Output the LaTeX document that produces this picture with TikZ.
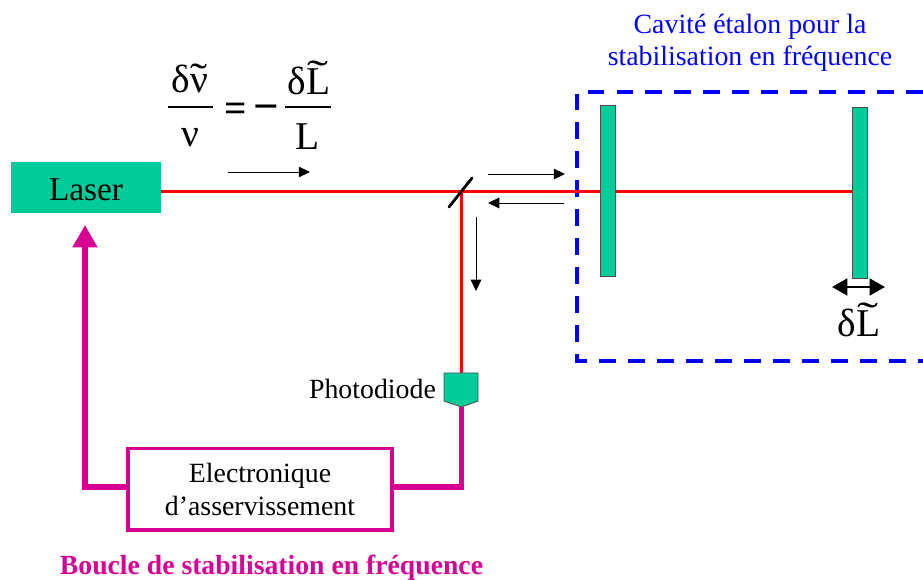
\documentclass[tikz,border=0pt]{standalone}
\usepackage{fontspec}
\setmainfont{Liberation Serif}
\usetikzlibrary{arrows.meta}
\definecolor{mirrorgreen}{HTML}{00CC99}
\definecolor{loopmagenta}{HTML}{D60093}
\newcommand{\smalltilde}[1]{\ooalign{\hfil\raisebox{0.05em}{\scalebox{1.3}[1]{\char"02DC}}\hfil\cr #1\cr}}
\newcommand{\widetildeL}{\ooalign{\hfil\raisebox{0.17em}{\scalebox{1.6}[1]{\char"02DC}}\hfil\cr L\cr}}
\tikzset{
    textnode/.style={inner sep=0pt, font=\fontsize{19.8}{24}\selectfont},
    formula/.style={inner sep=0pt, font=\fontsize{28}{32}\selectfont},
    mirror/.style={draw=black!70, fill=mirrorgreen, line width=0.6pt, inner sep=0pt, minimum width=0.375cm, minimum height=4.275cm},
    beam/.style={red, line width=2.4pt},
    loopline/.style={loopmagenta, line width=3.9pt},
    thinarrow/.style={line width=0.6pt, -{Triangle[length=8pt,width=7.5pt]}},
}
\begin{document}
\begin{tikzpicture}
    \useasboundingbox (0, 0) rectangle (23.075, 14.5);

    \node[fill=mirrorgreen, inner sep=0pt, minimum width=3.75cm, minimum height=1.275cm, text height=18.5pt, font=\fontsize{23.7}{28}\selectfont] (laser) at (2.15, 9.8125) {Laser};
    \node[mirror] (cava) at (15.19, 9.7375) {};
    \node[mirror] (cavb) at (21.4875, 9.6875) {};
    \node[draw=loopmagenta, line width=2.5pt, inner sep=0pt, minimum width=6.6cm, minimum height=2.03cm, align=center, textnode] (elec) at (6.5, 2.27) {Electronique\\[-0.5pt]d’asservissement};
    \node[textnode] (pdlabel) at (9.3125, 4.775) {Photodiode};

    \coordinate (split) at (11.5375, 9.71);
    \coordinate (pdtop) at (11.5375, 5.175);
    \coordinate (pdbot) at (11.5375, 4.325);
    \coordinate (corner) at (11.5375, 2.325);
    \coordinate (laserin) at (2.125, 8.875);

    % cavity outline, open on the right
    \draw[blue, line width=3.2pt, dash pattern=on 12pt off 8.6pt] (23.075, 12.2) -- (14.425, 12.2) -- (14.425, 5.475) -- (23.075, 5.475);

    % laser beam
    \draw[beam] (laser.east |- split) -- (split) -- (split -| cava.west);
    \draw[beam] (split -| cava.east) -- (split -| cavb.west);
    \draw[beam] (split) -- (pdtop);
    \draw[line width=2pt, line cap=round] (11.225, 9.325) -- (11.8, 10.05);

    % photodiode
    \draw[black!70, fill=mirrorgreen, line width=0.6pt] (11.1, 5.175) -- (11.95, 5.175) -- (11.95, 4.475) -- (pdbot) -- (11.1, 4.475) -- cycle;

    % feedback loop
    \draw[loopline] (pdbot) -- (corner) -- (elec.east |- corner);
    \draw[loopline, -{Triangle[length=16pt,width=17pt]}] (elec.west |- corner) -- (laserin |- corner) -- (laserin);

    % direction arrows
    \coordinate (aa) at (5.7, 10.2);
    \coordinate (ab) at (7.75, 10.2);
    \coordinate (ba) at (12.2, 10.15);
    \coordinate (bb) at (14.125, 10.15);
    \coordinate (ca) at (14.1, 9.425);
    \coordinate (cb) at (12.2, 9.425);
    \coordinate (da) at (11.9, 9.075);
    \coordinate (db) at (11.9, 7.225);
    \draw[thinarrow] (aa) -- (ab);
    \draw[thinarrow] (ba) -- (bb);
    \draw[thinarrow] (ca) -- (cb);
    \draw[thinarrow] (da) -- (db);

    % end mirror travel
    \coordinate (ta) at (20.8, 7.325);
    \coordinate (tb) at (22.125, 7.325);
    \draw[line width=1.8pt, {Triangle[length=11pt,width=12pt]}-{Triangle[length=11pt,width=12pt]}] (ta) -- (tb);
    \node[formula] (dltravel) at (21.475, 6.5) {δ\widetildeL};

    % formula
    \node[formula] (numnu) at (4.75, 12.55) {δ\smalltilde{ν}};
    \node[formula] (dennu) at (4.75, 11.05) {ν};
    \node[formula, font=\fontsize{28}{32}\selectfont\bfseries] (equal) at (5.9, 11.7) {=};
    \node[formula, font=\fontsize{32}{36}\selectfont\bfseries] (minus) at (6.66, 11.675) {−};
    \node[formula] (numl) at (7.725, 12.55) {δ\widetildeL};
    \node[formula] (denl) at (7.7, 11.075) {L};
    \draw[line width=0.9pt] (4.2, 11.825) -- (5.325, 11.825);
    \draw[line width=0.9pt] (7.125, 11.825) -- (8.275, 11.825);

    \node[textnode, blue, align=center] (title) at (18.75, 13.425) {Cavité étalon pour la\\[-1.3pt]stabilisation en fréquence};
    \node[inner sep=0pt, text=loopmagenta, font=\fontsize{19.7}{23}\selectfont\bfseries] (looplabel) at (6.7875, 0.3) {Boucle de stabilisation en fréquence};
\end{tikzpicture}
\end{document}
